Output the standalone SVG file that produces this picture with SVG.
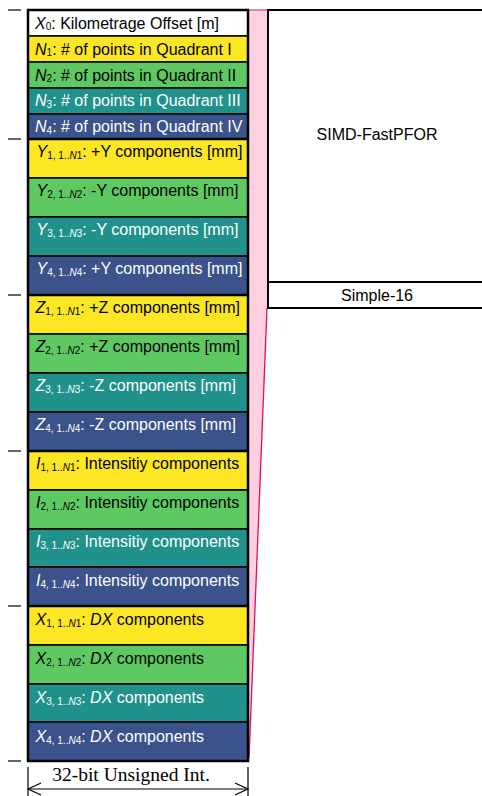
<svg xmlns="http://www.w3.org/2000/svg" width="482" height="796" viewBox="0 0 482 796">
<style>
  .t { font-family: "Liberation Sans", Arial, sans-serif; font-size: 16px; fill: #000; }
  .r { font-size: 16px; }
  .w { fill: #fff; }
  .i { font-style: italic; }
  .s { font-size: 10px; }
  .row { stroke: #000; stroke-width: 1.5; }
  .c0 { fill: #ffffff; }
  .c1 { fill: #fde725; }
  .c2 { fill: #5ec962; }
  .c3 { fill: #21918c; }
  .c4 { fill: #3b528b; }
  .sep { stroke: #000; stroke-width: 2.5; }
  .tick { stroke: #000; stroke-width: 1.2; }
  .box { fill: #fff; stroke: #000; stroke-width: 2; }
  .dim { stroke: #000; stroke-width: 1.2; fill: none; }
</style>
<rect width="482" height="796" fill="#fff"/>

<g id="connectors">
  <polygon points="249,10 267,10 267,308 249,760" fill="#ffd1e0" stroke="none"/>
  <polyline points="249,10 267,10" stroke="#e0105a" stroke-width="1" fill="none"/>
  <line x1="267" y1="308" x2="249" y2="758" stroke="#e0105a" stroke-width="1.3"/>
</g>

<g id="ticks">
  <line class="tick" x1="8" y1="10" x2="21" y2="10"/>
  <line class="tick" x1="8" y1="139" x2="21" y2="139"/>
  <line class="tick" x1="8" y1="295" x2="21" y2="295"/>
  <line class="tick" x1="8" y1="451" x2="21" y2="451"/>
  <line class="tick" x1="8" y1="606" x2="21" y2="606"/>
  <line class="tick" x1="8" y1="761" x2="21" y2="761"/>
</g>

<g id="row-X0"><rect class="row c0" x="28" y="10" width="220" height="26"/>
  <text class="t" x="35" y="28.5"><tspan class="i">X</tspan><tspan class="s" dy="1.5">0</tspan><tspan dy="-1.5">: Kilometrage Offset [m]</tspan></text></g>
<g id="row-N1"><rect class="row c1" x="28" y="36" width="220" height="26"/>
  <text class="t" x="35" y="54.5"><tspan class="i">N</tspan><tspan class="s" dy="1.5">1</tspan><tspan dy="-1.5">: # of points in Quadrant I</tspan></text></g>
<g id="row-N2"><rect class="row c2" x="28" y="62" width="220" height="26"/>
  <text class="t" x="35" y="80.5"><tspan class="i">N</tspan><tspan class="s" dy="1.5">2</tspan><tspan dy="-1.5">: # of points in Quadrant II</tspan></text></g>
<g id="row-N3"><rect class="row c3" x="28" y="88" width="220" height="26"/>
  <text class="t w" x="35" y="106"><tspan class="i">N</tspan><tspan class="s" dy="1.5">3</tspan><tspan dy="-1.5">: # of points in Quadrant III</tspan></text></g>
<g id="row-N4"><rect class="row c4" x="28" y="114" width="220" height="25"/>
  <text class="t w" x="35" y="132"><tspan class="i">N</tspan><tspan class="s" dy="1.5">4</tspan><tspan dy="-1.5">: # of points in Quadrant IV</tspan></text></g>

<g id="row-Y1"><rect class="row c1" x="28" y="139" width="220" height="39"/>
  <text class="t" x="36.5" y="157"><tspan class="i">Y</tspan><tspan class="s" dy="2">1, 1..</tspan><tspan class="s i">N</tspan><tspan class="s">1</tspan><tspan dy="-2">: +Y components [mm]</tspan></text></g>
<g id="row-Y2"><rect class="row c2" x="28" y="178" width="220" height="39"/>
  <text class="t" x="36.5" y="196"><tspan class="i">Y</tspan><tspan class="s" dy="2">2, 1..</tspan><tspan class="s i">N</tspan><tspan class="s">2</tspan><tspan dy="-2">: -Y components [mm]</tspan></text></g>
<g id="row-Y3"><rect class="row c3" x="28" y="217" width="220" height="39"/>
  <text class="t w" x="36.5" y="235"><tspan class="i">Y</tspan><tspan class="s" dy="2">3, 1..</tspan><tspan class="s i">N</tspan><tspan class="s">3</tspan><tspan dy="-2">: -Y components [mm]</tspan></text></g>
<g id="row-Y4"><rect class="row c4" x="28" y="256" width="220" height="39"/>
  <text class="t w" x="36.5" y="274"><tspan class="i">Y</tspan><tspan class="s" dy="2">4, 1..</tspan><tspan class="s i">N</tspan><tspan class="s">4</tspan><tspan dy="-2">: +Y components [mm]</tspan></text></g>

<g id="row-Z1"><rect class="row c1" x="28" y="295" width="220" height="39"/>
  <text class="t" x="35.5" y="313"><tspan class="i">Z</tspan><tspan class="s" dy="2">1, 1..</tspan><tspan class="s i">N</tspan><tspan class="s">1</tspan><tspan dy="-2">: +Z components [mm]</tspan></text></g>
<g id="row-Z2"><rect class="row c2" x="28" y="334" width="220" height="39"/>
  <text class="t" x="35.5" y="352"><tspan class="i">Z</tspan><tspan class="s" dy="2">2, 1..</tspan><tspan class="s i">N</tspan><tspan class="s">2</tspan><tspan dy="-2">: +Z components [mm]</tspan></text></g>
<g id="row-Z3"><rect class="row c3" x="28" y="373" width="220" height="39"/>
  <text class="t w" x="35.5" y="391"><tspan class="i">Z</tspan><tspan class="s" dy="2">3, 1..</tspan><tspan class="s i">N</tspan><tspan class="s">3</tspan><tspan dy="-2">: -Z components [mm]</tspan></text></g>
<g id="row-Z4"><rect class="row c4" x="28" y="412" width="220" height="39"/>
  <text class="t w" x="35.5" y="430"><tspan class="i">Z</tspan><tspan class="s" dy="2">4, 1..</tspan><tspan class="s i">N</tspan><tspan class="s">4</tspan><tspan dy="-2">: -Z components [mm]</tspan></text></g>

<g id="row-I1"><rect class="row c1" x="28" y="451" width="220" height="39"/>
  <text class="t" x="36" y="469"><tspan class="i">I</tspan><tspan class="s" dy="2">1, 1..</tspan><tspan class="s i">N</tspan><tspan class="s">1</tspan><tspan dy="-2">: Intensitiy components</tspan></text></g>
<g id="row-I2"><rect class="row c2" x="28" y="490" width="220" height="39"/>
  <text class="t" x="36" y="508"><tspan class="i">I</tspan><tspan class="s" dy="2">2, 1..</tspan><tspan class="s i">N</tspan><tspan class="s">2</tspan><tspan dy="-2">: Intensitiy components</tspan></text></g>
<g id="row-I3"><rect class="row c3" x="28" y="529" width="220" height="38"/>
  <text class="t w" x="36" y="547"><tspan class="i">I</tspan><tspan class="s" dy="2">3, 1..</tspan><tspan class="s i">N</tspan><tspan class="s">3</tspan><tspan dy="-2">: Intensitiy components</tspan></text></g>
<g id="row-I4"><rect class="row c4" x="28" y="567" width="220" height="39"/>
  <text class="t w" x="36" y="585.5"><tspan class="i">I</tspan><tspan class="s" dy="2">4, 1..</tspan><tspan class="s i">N</tspan><tspan class="s">4</tspan><tspan dy="-2">: Intensitiy components</tspan></text></g>

<g id="row-X1"><rect class="row c1" x="28" y="606" width="220" height="39"/>
  <text class="t" x="35.5" y="625"><tspan class="i">X</tspan><tspan class="s" dy="2">1, 1..</tspan><tspan class="s i">N</tspan><tspan class="s">1</tspan><tspan dy="-2">: </tspan><tspan class="i">DX</tspan><tspan> components</tspan></text></g>
<g id="row-X2"><rect class="row c2" x="28" y="645" width="220" height="39"/>
  <text class="t" x="35.5" y="664"><tspan class="i">X</tspan><tspan class="s" dy="2">2, 1..</tspan><tspan class="s i">N</tspan><tspan class="s">2</tspan><tspan dy="-2">: </tspan><tspan class="i">DX</tspan><tspan> components</tspan></text></g>
<g id="row-X3"><rect class="row c3" x="28" y="684" width="220" height="38"/>
  <text class="t w" x="35.5" y="703"><tspan class="i">X</tspan><tspan class="s" dy="2">3, 1..</tspan><tspan class="s i">N</tspan><tspan class="s">3</tspan><tspan dy="-2">: </tspan><tspan class="i">DX</tspan><tspan> components</tspan></text></g>
<g id="row-X4"><rect class="row c4" x="28" y="722" width="220" height="39"/>
  <text class="t w" x="35.5" y="741.5"><tspan class="i">X</tspan><tspan class="s" dy="2">4, 1..</tspan><tspan class="s i">N</tspan><tspan class="s">4</tspan><tspan dy="-2">: </tspan><tspan class="i">DX</tspan><tspan> components</tspan></text></g>

<g id="separators">
  <line class="sep" x1="28" y1="139" x2="248" y2="139"/>
  <line class="sep" x1="28" y1="295" x2="248" y2="295"/>
  <line class="sep" x1="28" y1="451" x2="248" y2="451"/>
  <line class="sep" x1="28" y1="606" x2="248" y2="606"/>
  <rect x="28" y="10" width="220" height="751" fill="none" stroke="#000" stroke-width="2.5"/>
</g>

<g id="simd-fastpfor">
  <rect class="box" x="268" y="10" width="230" height="272"/>
  <text class="t r" x="377" y="140" text-anchor="middle">SIMD-FastPFOR</text>
</g>
<g id="simple-16">
  <rect class="box" x="268" y="282" width="230" height="26"/>
  <text class="t r" x="377" y="301" text-anchor="middle">Simple-16</text>
</g>

<g id="dimension">
  <line class="dim" x1="28" y1="767" x2="28" y2="796"/>
  <line class="dim" x1="248" y1="767" x2="248" y2="796"/>
  <line class="dim" x1="28" y1="789" x2="248" y2="789"/>
  <polyline class="dim" points="41,783 28,789 41,795"/>
  <polyline class="dim" points="235,783 248,789 235,795"/>
  <text x="131" y="781" text-anchor="middle" font-family="'Liberation Serif', 'Times New Roman', serif" font-size="19.5">32-bit Unsigned Int.</text>
</g>
</svg>
